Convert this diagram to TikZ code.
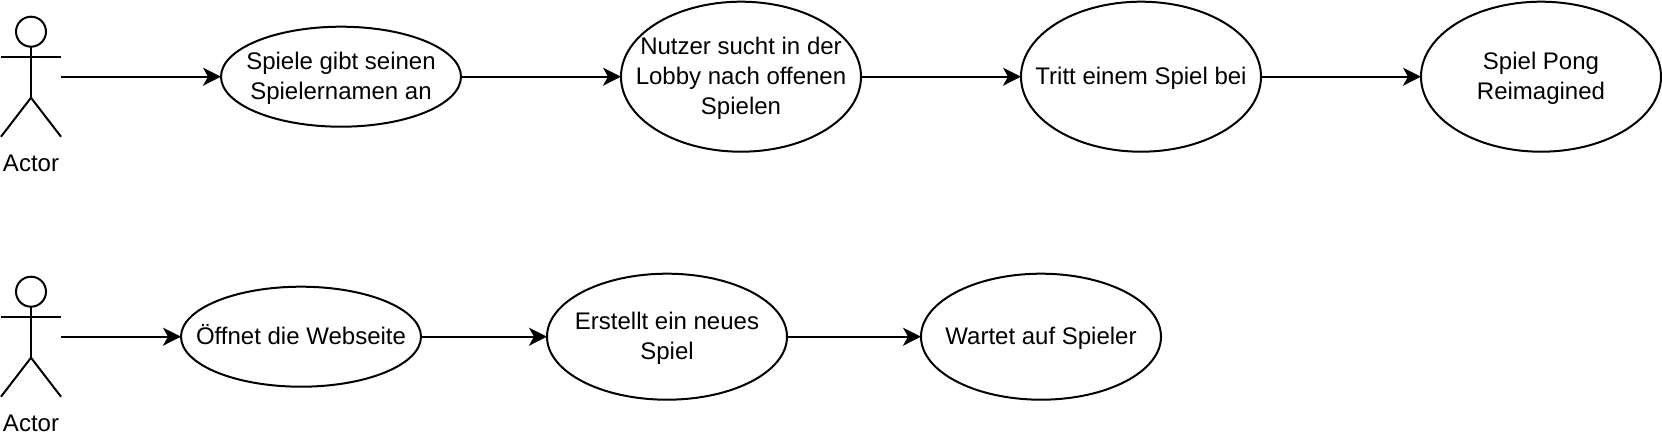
\documentclass[tikz,border=0pt]{standalone}
\usepackage{fontspec}
\setmainfont{Liberation Sans}
\usetikzlibrary{calc, arrows.meta, shapes.geometric}
\newcommand{\firstline}{\rule[-5pt]{0pt}{26pt}}
\tikzset{
    usecase/.style={draw=black, line width=2pt, ellipse, minimum width=240pt, minimum height=#1, inner xsep=-40pt, inner ysep=0pt, outer sep=0pt, align=center, font=\fontsize{24}{30}\selectfont},
    usecase/.default=100pt,
    actorbox/.style={minimum width=60pt, minimum height=120pt, inner sep=0pt, outer sep=0pt},
    actorname/.style={inner sep=0pt, font=\fontsize{24}{30}\selectfont},
    flow/.style={line width=2pt, -{Stealth[length=18pt,width=18pt,inset=5pt]}}
}
\begin{document}
\begin{tikzpicture}[x=1pt,y=-1pt]
    \useasboundingbox (0,0) rectangle (1662,438);
    \node[actorbox] (actorTop) at (31,76.7) {};
    \node[actorbox] (actorBottom) at (31,336.7) {};
    \node[actorname] (actorTopName) at (31,163) {Actor};
    \node[actorname] (actorBottomName) at (31,423) {Actor};
    \foreach \a in {actorTop,actorBottom}{
        \draw[line width=2pt] ($(\a.north)+(0,15)$) circle (15);
        \draw[line width=2pt] ($(\a.north)+(0,30)$)--($(\a.north)+(0,81)$);
        \draw[line width=2pt] ($(\a.west)+(0,-20)$)--($(\a.east)+(0,-20)$);
        \draw[line width=2pt] (\a.south west)--($(\a.north)+(0,81)$)--(\a.south east);
    }
    \node[usecase] (name) at (341,76.7) {\firstline Spiele gibt seinen\\Spielernamen an};
    \node[usecase=150pt] (lobby) at (741,76.7) {\firstline Nutzer sucht in der\\Lobby nach offenen\\Spielen};
    \node[usecase=150pt] (join) at (1141,76.7) {\firstline Tritt einem Spiel bei};
    \node[usecase=150pt] (pong) at (1541,76.7) {\firstline Spiel Pong\\Reimagined};
    \node[usecase] (site) at (301,336.7) {\firstline Öffnet die Webseite};
    \node[usecase=126pt] (create) at (667,336.7) {\firstline Erstellt ein neues\\Spiel};
    \node[usecase=126pt] (wait) at (1041,336.7) {\firstline Wartet auf Spieler};
    \foreach \a/\b in {actorTop/name,name/lobby,lobby/join,join/pong,actorBottom/site,site/create,create/wait}{
        \draw[flow] (\a) -- (\b);
    }
\end{tikzpicture}
\end{document}
